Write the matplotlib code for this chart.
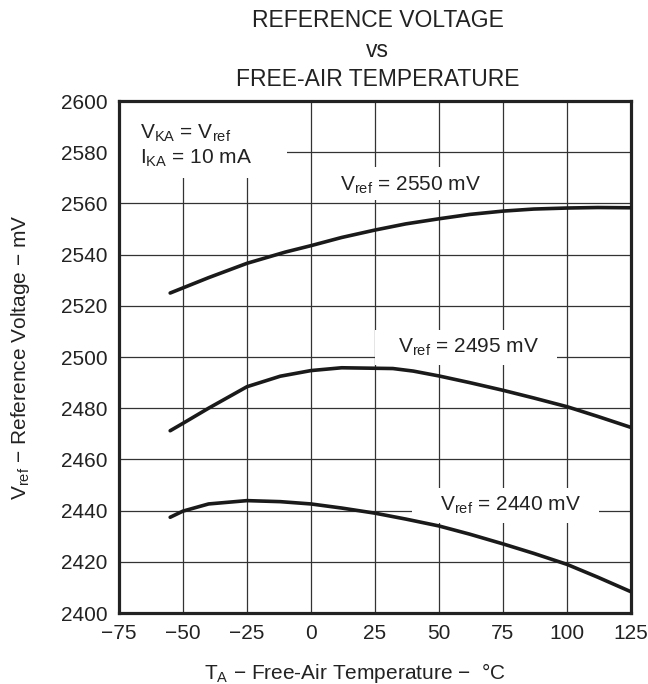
import matplotlib
matplotlib.use('Agg')
import matplotlib.pyplot as plt
from matplotlib.patches import Rectangle

plt.rcParams['font.family'] = ['Liberation Sans', 'DejaVu Sans']
plt.rcParams['mathtext.fontset'] = 'custom'
plt.rcParams['mathtext.rm'] = 'Liberation Sans'
plt.rcParams['mathtext.it'] = 'Liberation Sans'

# data
temp_2550 = [-55, -40, -25, -10, 0, 12, 25, 37, 50, 62, 75, 87, 100, 112, 125]
vref_2550 = [2525, 2531, 2536.6, 2541, 2543.5, 2546.7, 2549.6, 2552, 2554,
             2555.7, 2557, 2557.8, 2558.2, 2558.4, 2558.3]

temp_2495 = [-55, -50, -40, -25, -12, 0, 12, 32, 40, 50, 62, 75, 87, 100, 112, 125]
vref_2495 = [2471.2, 2474.1, 2480, 2488.4, 2492.5, 2494.7, 2495.8, 2495.5,
             2494.5, 2492.6, 2490, 2487, 2484, 2480.6, 2476.8, 2472.5]

temp_2440 = [-55, -50, -40, -25, -12, 0, 12, 25, 37, 50, 62, 75, 87, 100, 112, 125]
vref_2440 = [2437.4, 2439.8, 2442.6, 2443.9, 2443.5, 2442.6, 2441, 2439,
             2436.7, 2434, 2430.8, 2427, 2423.3, 2419, 2414, 2408.3]

x_ticks = [-75, -50, -25, 0, 25, 50, 75, 100, 125]
y_ticks = [2400, 2420, 2440, 2460, 2480, 2500, 2520, 2540, 2560, 2580, 2600]

fs = 15

fig = plt.figure(figsize=(6.48, 6.84), dpi=100)
ax = fig.add_axes([0.1836, 0.1038, 0.7901, 0.7485])

ax.set_xlim(-75, 125)
ax.set_ylim(2400, 2600)
ax.set_xticks(x_ticks)
ax.set_yticks(y_ticks)
ax.set_xticklabels([str(t).replace('-', '\u2212') for t in x_ticks], fontsize=fs)
ax.set_yticklabels([str(t) for t in y_ticks], fontsize=fs)
ax.tick_params(length=0, pad=8, colors='#222222')
ax.grid(True, color='#333333', linewidth=0.9)
ax.set_axisbelow(True)
for s in ax.spines.values():
    s.set_linewidth(2.3)
    s.set_color('#222222')

for t, v in [(temp_2550, vref_2550), (temp_2495, vref_2495), (temp_2440, vref_2440)]:
    ax.plot(t, v, color='#1a1a1a', linewidth=2.6, solid_capstyle='round', zorder=3)

# white patches that break the grid behind the labels
for x0, x1, y0, y1 in [(-74.6, -9.4, 2569.9, 2600), (7.4, 69.9, 2561.3, 2574.2),
                       (25, 96.1, 2496.9, 2510.5), (39.5, 112.5, 2435.2, 2448.8)]:
    ax.add_patch(Rectangle((x0, y0), x1 - x0, y1 - y0, facecolor='white',
                           edgecolor='none', zorder=2))

ax.text(-66.8, 2582.6, 'V$_{\\mathrm{KA}}$ = V$_{\\mathrm{ref}}$\nI$_{\\mathrm{KA}}$ = 10 mA',
        fontsize=fs, va='center', ha='left', linespacing=1.25, color='#222222', zorder=2.5)
ax.text(38.7, 2567.2, 'V$_{\\mathrm{ref}}$ = 2550 mV', fontsize=fs, ha='center', va='center',
        color='#222222', zorder=2.5)
ax.text(61.5, 2503.9, 'V$_{\\mathrm{ref}}$ = 2495 mV', fontsize=fs, ha='center', va='center',
        color='#222222', zorder=2.5)
ax.text(77.9, 2442.2, 'V$_{\\mathrm{ref}}$ = 2440 mV', fontsize=fs, ha='center', va='center',
        color='#222222', zorder=2.5)

fig.text(0.583, 1 - 27 / 684, 'REFERENCE VOLTAGE', fontsize=16.5, ha='center', va='baseline', color='#222222')
fig.text(0.583, 1 - 57 / 684, 'vs', fontsize=16.5, ha='center', va='baseline', color='#222222')
fig.text(0.583, 1 - 86 / 684, 'FREE-AIR TEMPERATURE', fontsize=16.5, ha='center', va='baseline', color='#222222')

fig.text(0.031, 0.478, 'V$_{\\mathrm{ref}}$ \u2212 Reference Voltage \u2212 mV', fontsize=fs,
         rotation=90, ha='center', va='center', color='#222222')
fig.text(0.548, 1 - 679 / 684, 'T$_{\\mathrm{A}}$ \u2212 Free-Air Temperature \u2212  \u00b0C', fontsize=fs,
         ha='center', va='baseline', color='#222222')

fig.savefig('out.png', dpi=100)
